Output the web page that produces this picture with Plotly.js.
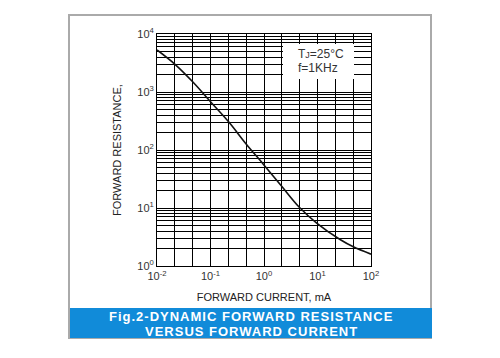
<!DOCTYPE html>
<html>
<head>
<meta charset="utf-8">
<script src="https://cdn.plot.ly/plotly-3.0.1.min.js"></script>
<style>html,body{margin:0;padding:0;background:#fff;}#chart{width:500px;height:358px;}</style>
</head>
<body>
<div id="chart"></div>
<script>
// Data
var currentMA = [0.01, 0.0217, 0.0464, 0.102, 0.222, 0.455, 0.97, 2.14, 4.57, 9.66, 26.4, 46.7, 100];
var resistance = [5300, 3000, 1500, 668, 301, 130, 57, 23.7, 10.3, 5.5, 2.86, 2.14, 1.60];

var xDecadeLabels = ['10<sup>-2</sup>', '10<sup>-1</sup>', '10<sup>0</sup>', '10<sup>1</sup>', '10<sup>2</sup>'];
var yDecadeLabels = ['10<sup>0</sup>', '10<sup>1</sup>', '10<sup>2</sup>', '10<sup>3</sup>', '10<sup>4</sup>'];

var xTitle = 'FORWARD CURRENT, mA';
var yTitle = 'FORWARD RESISTANCE,';
var figLine1 = 'Fig.2-DYNAMIC FORWARD RESISTANCE';
var figLine2 = 'VERSUS FORWARD CURRENT';
var condLine1 = 'T<span style="font-size:9px">J</span>=25°C';
var condLine2 = 'f=1KHz';

// X grid: 3 evenly spaced lines per decade, labels at decades
var xTickVals = [], xTickText = [];
for (var k = 0; k <= 12; k++) {
  xTickVals.push(Math.pow(10, -2 + k / 3));
  xTickText.push(k % 3 === 0 ? xDecadeLabels[k / 3] : '');
}
// Y grid: standard log grid 1..9 per decade
var yTickVals = [], yTickText = [];
for (var d = 0; d <= 4; d++) {
  for (var m = 1; m <= 9; m++) {
    if (d === 4 && m > 1) break;
    yTickVals.push(m * Math.pow(10, d));
    yTickText.push(m === 1 ? yDecadeLabels[d] : '');
  }
}

// pixel helpers for decoration placement
var L = 157, R = 371, T = 34, B = 266;
function px(x) { return (x - L) / (R - L); }
function py(y) { return (B - y) / (B - T); }

var trace = {
  x: currentMA, y: resistance, type: 'scatter', mode: 'lines',
  line: {color: '#111', width: 1.6, shape: 'spline', smoothing: 1},
  hoverinfo: 'skip'
};

var layout = {
  width: 500, height: 358,
  margin: {l: L, r: 500 - R, t: T, b: 358 - B},
  paper_bgcolor: '#fff', plot_bgcolor: '#fff',
  showlegend: false,
  font: {family: 'Arial, "Liberation Sans", sans-serif', color: '#333', size: 11},
  xaxis: {
    type: 'log', range: [-2, 2],
    tickmode: 'array', tickvals: xTickVals, ticktext: xTickText,
    showgrid: true, gridcolor: '#000', gridwidth: 1,
    showline: true, linecolor: '#000', linewidth: 1, mirror: true,
    ticks: '', zeroline: false,
    tickfont: {size: 11, color: '#333'},
    title: {text: xTitle, font: {size: 11, color: '#222'}, standoff: 12}
  },
  yaxis: {
    type: 'log', range: [0, 4],
    tickmode: 'array', tickvals: yTickVals, ticktext: yTickText,
    showgrid: true, gridcolor: '#000', gridwidth: 1,
    showline: true, linecolor: '#000', linewidth: 1, mirror: true,
    ticks: '', zeroline: false,
    tickfont: {size: 11, color: '#333'},
    title: {text: yTitle, font: {size: 11, color: '#222'}, standoff: 13}
  },
  shapes: [
    {type: 'rect', xref: 'paper', yref: 'paper', layer: 'below',
     x0: px(69), x1: px(431), y0: py(338), y1: py(15),
     line: {color: '#aaaaaa', width: 2}, fillcolor: 'rgba(0,0,0,0)'},
    {type: 'rect', xref: 'paper', yref: 'paper',
     x0: px(70), x1: px(432), y0: py(338), y1: py(308),
     line: {width: 0}, fillcolor: '#118bd9'},
    {type: 'rect', xref: 'paper', yref: 'paper', layer: 'above',
     x0: px(283), x1: px(354), y0: py(79), y1: py(44),
     line: {width: 0}, fillcolor: '#fff'}
  ],
  annotations: [
    {xref: 'paper', yref: 'paper', x: px(296), y: py(54),
     xanchor: 'left', yanchor: 'middle', text: condLine1, showarrow: false,
     font: {size: 12, color: '#333'}},
    {xref: 'paper', yref: 'paper', x: px(296), y: py(68),
     xanchor: 'left', yanchor: 'middle', text: condLine2, showarrow: false,
     font: {size: 12, color: '#333'}},
    {xref: 'paper', yref: 'paper', x: px(251), y: py(316.5),
     xanchor: 'center', yanchor: 'middle', showarrow: false,
     text: '<span style="letter-spacing:1px"><b>' + figLine1 + '</b></span>',
     font: {size: 13, color: '#fff', family: 'Arial, "Liberation Sans", sans-serif'}},
    {xref: 'paper', yref: 'paper', x: px(251), y: py(331),
     xanchor: 'center', yanchor: 'middle', showarrow: false,
     text: '<span style="letter-spacing:1px"><b>' + figLine2 + '</b></span>',
     font: {size: 13, color: '#fff', family: 'Arial, "Liberation Sans", sans-serif'}}
  ]
};

Plotly.newPlot('chart', [trace], layout, {displayModeBar: false, staticPlot: true});
</script>
</body>
</html>
